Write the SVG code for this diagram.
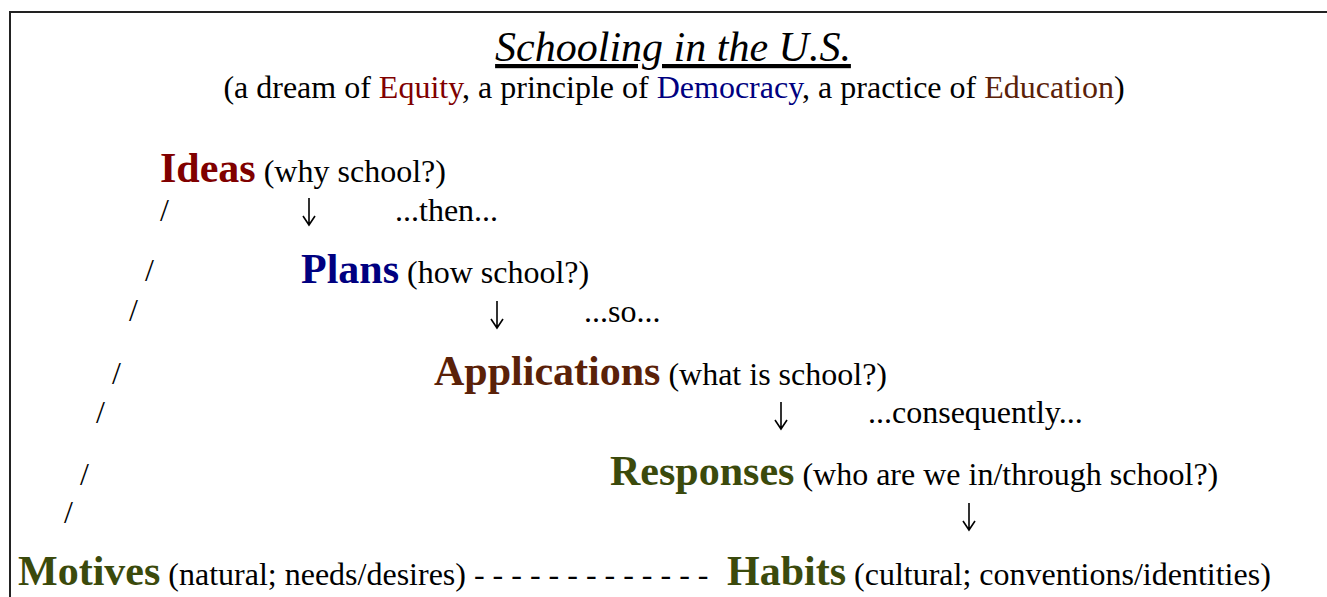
<svg xmlns="http://www.w3.org/2000/svg" width="1327" height="597" viewBox="0 0 1327 597">
  <style>
    text { font-family: "Liberation Serif", "Times New Roman", serif; fill: #000; }
    .title { font-size: 42px; font-style: italic; text-decoration: underline; }
    .sub { font-size: 32px; }
    .head { font-size: 42px; font-weight: bold; }
    .note { font-size: 32px; }
    .idea { fill: #800000; }
    .plan { fill: #000080; }
    .appl { fill: #5a2108; }
    .resp { fill: #3b4a0c; }
    .frame { fill: none; stroke: #222; stroke-width: 2; }
    .arrow { fill: none; stroke: #000; stroke-width: 1.6; }
  </style>

  <!-- outer frame (top and left edges) -->
  <path class="frame" d="M10 597 V12 H1327"/>

  <!-- heading -->
  <g id="title">
    <text class="title" x="673" y="61" text-anchor="middle">Schooling in the U.S.</text>
    <text class="sub" x="674" y="98" text-anchor="middle">(a dream of <tspan class="idea">Equity</tspan>, a principle of <tspan class="plan">Democracy</tspan>, a practice of <tspan class="appl">Education</tspan>)</text>
  </g>

  <!-- stages -->
  <g id="ideas">
    <text x="160" y="182"><tspan class="head idea">Ideas</tspan><tspan class="note" dx="8">(why school?)</tspan></text>
  </g>
  <g id="plans">
    <text x="301" y="283"><tspan class="head plan">Plans</tspan><tspan class="note" dx="8">(how school?)</tspan></text>
  </g>
  <g id="applications">
    <text x="434" y="385"><tspan class="head appl">Applications</tspan><tspan class="note" dx="8">(what is school?)</tspan></text>
  </g>
  <g id="responses">
    <text x="610" y="485"><tspan class="head resp">Responses</tspan><tspan class="note" dx="8">(who are we in/through school?)</tspan></text>
  </g>
  <g id="motives">
    <text x="18" y="585"><tspan class="head resp">Motives</tspan><tspan class="note" dx="8">(natural; needs/desires) - - - - - - - - - - - - -</tspan></text>
  </g>
  <g id="habits">
    <text x="727" y="585"><tspan class="head resp">Habits</tspan><tspan class="note" dx="8">(cultural; conventions/identities)</tspan></text>
  </g>

  <!-- connectors: down arrows, transition words and the rising slash line -->
  <g id="connectors">
    <path class="arrow" d="M309 198 V225 M303 216 L309 225 L315 216"/>
    <path class="arrow" d="M497 301 V328 M491 319 L497 328 L503 319"/>
    <path class="arrow" d="M781 402 V429 M775 420 L781 429 L787 420"/>
    <path class="arrow" d="M969 503 V530 M963 521 L969 530 L975 521"/>

    <text class="note" x="395" y="221">...then...</text>
    <text class="note" x="584" y="322">...so...</text>
    <text class="note" x="868" y="423">...consequently...</text>

    <text class="note" x="160" y="221">/</text>
    <text class="note" x="145" y="281">/</text>
    <text class="note" x="129" y="321">/</text>
    <text class="note" x="112" y="384">/</text>
    <text class="note" x="96" y="423">/</text>
    <text class="note" x="80" y="485">/</text>
    <text class="note" x="64" y="523">/</text>
  </g>
</svg>
